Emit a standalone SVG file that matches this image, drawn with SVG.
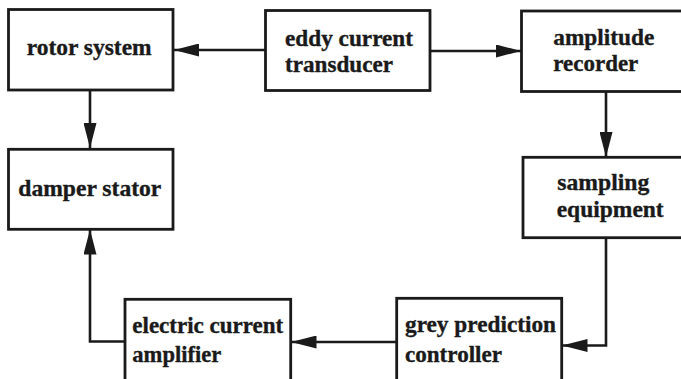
<svg xmlns="http://www.w3.org/2000/svg" width="681" height="379" viewBox="0 0 681 379">
<style>
.box{fill:#fff;stroke:#1a1a1a;stroke-width:2.8}
.t{font-family:"Liberation Serif","Times New Roman",Times,serif;font-weight:bold;font-size:23px;fill:#1a1a1a;stroke:#1a1a1a;stroke-width:0.35}
.c{fill:none;stroke:#1a1a1a;stroke-width:2.6}
</style>
<defs>
<marker id="ah" viewBox="0 0 25 13" refX="25" refY="6.5" markerWidth="25" markerHeight="13" markerUnits="userSpaceOnUse" orient="auto">
<path d="M0,0 L25,6.5 L0,13 Z" fill="#1a1a1a"/>
</marker>
</defs>
<rect width="681" height="379" fill="#fff"/>
<g id="connectors">
<line class="c" x1="265" y1="50" x2="174" y2="50" marker-end="url(#ah)"/>
<line class="c" x1="430" y1="51" x2="521" y2="51" marker-end="url(#ah)"/>
<line class="c" x1="90" y1="90" x2="90" y2="148" marker-end="url(#ah)"/>
<line class="c" x1="606" y1="92" x2="606" y2="157" marker-end="url(#ah)"/>
<polyline class="c" points="606,238 606,345.5 562.5,345.5" marker-end="url(#ah)"/>
<line class="c" x1="397" y1="342" x2="291.5" y2="342" marker-end="url(#ah)"/>
<polyline class="c" points="125,341.5 90,341.5 90,229.5" marker-end="url(#ah)"/>
</g>
<g id="rotor">
<rect class="box" x="8.5" y="9.5" width="164.5" height="80.5"/>
<text class="t" x="26.7" y="55" textLength="125" lengthAdjust="spacingAndGlyphs">rotor system</text>
</g>
<g id="eddy">
<rect class="box" x="265.5" y="10.5" width="164.5" height="80"/>
<text class="t" x="285" y="45.7" textLength="128" lengthAdjust="spacingAndGlyphs">eddy current</text>
<text class="t" x="285" y="71.7" textLength="108" lengthAdjust="spacingAndGlyphs">transducer</text>
</g>
<g id="amplitude">
<rect class="box" x="521.5" y="11" width="170" height="80.5"/>
<text class="t" x="553.3" y="45" textLength="101" lengthAdjust="spacingAndGlyphs">amplitude</text>
<text class="t" x="553.3" y="71" textLength="85" lengthAdjust="spacingAndGlyphs">recorder</text>
</g>
<g id="damper">
<rect class="box" x="8.5" y="149.3" width="164.5" height="80"/>
<text class="t" x="18.3" y="196" textLength="143" lengthAdjust="spacingAndGlyphs">damper stator</text>
</g>
<g id="sampling">
<rect class="box" x="523" y="157.3" width="170" height="80.4"/>
<text class="t" x="557.3" y="190" textLength="92" lengthAdjust="spacingAndGlyphs">sampling</text>
<text class="t" x="556.7" y="216.7" textLength="107" lengthAdjust="spacingAndGlyphs">equipment</text>
</g>
<g id="amplifier">
<rect class="box" x="125" y="299.3" width="165.7" height="95"/>
<text class="t" x="132.3" y="333.3" textLength="151" lengthAdjust="spacingAndGlyphs">electric current</text>
<text class="t" x="132.3" y="361.7" textLength="89" lengthAdjust="spacingAndGlyphs">amplifier</text>
</g>
<g id="controller">
<rect class="box" x="396.7" y="298.3" width="165" height="95"/>
<text class="t" x="405" y="331.7" textLength="151" lengthAdjust="spacingAndGlyphs">grey prediction</text>
<text class="t" x="405" y="361.7" textLength="97" lengthAdjust="spacingAndGlyphs">controller</text>
</g>
</svg>
